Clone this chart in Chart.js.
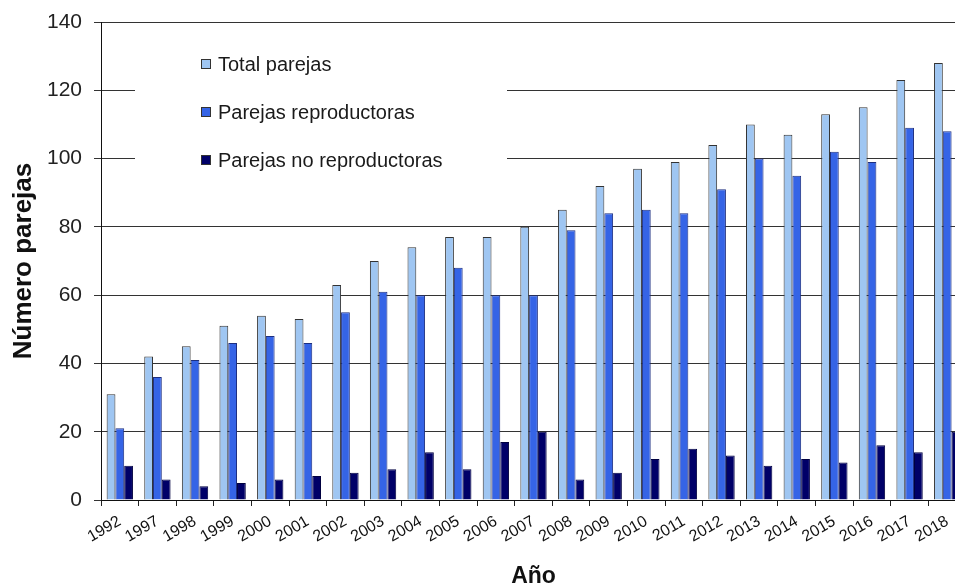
<!DOCTYPE html>
<html>
<head>
<meta charset="utf-8">
<script src="https://cdn.jsdelivr.net/npm/chart.js@4.4.0/dist/chart.umd.min.js"></script>
<style>
  html, body { margin: 0; padding: 0; background: #fff; }
  #wrap { width: 955px; height: 587px; overflow: hidden; position: relative; }
  canvas { display: block; }
</style>
</head>
<body>
<div id="wrap"><canvas id="chart" width="970" height="587"></canvas></div>
<script>
// years shown on the axis (note the gap 1992 -> 1997)
const years = ['1992', '1997', '1998', '1999', '2000', '2001', '2002', '2003', '2004', '2005', '2006', '2007',
  '2008', '2009', '2010', '2011', '2012', '2013', '2014', '2015', '2016', '2017', '2018'];

const totalParejas = [31, 42, 45, 51, 54, 53, 63, 70, 74, 77, 77, 80,
  85, 92, 97, 99, 104, 110, 107, 113, 115, 123, 128];
const reproductoras = [21, 36, 41, 46, 48, 46, 55, 61, 60, 68, 60, 60,
  79, 84, 85, 84, 91, 100, 95, 102, 99, 109, 108];
const noReproductoras = [10, 6, 4, 5, 6, 7, 8, 9, 14, 9, 17, 20,
  6, 8, 12, 15, 13, 10, 12, 11, 16, 14, 20];

const yTicks = [0, 20, 40, 60, 80, 100, 120, 140];

const font = 'Arial, "Liberation Sans", sans-serif';

// legend drawn inside the plot on a white box, like the original
const insideLegend = {
  id: 'insideLegend',
  afterDatasetsDraw(chart) {
    const ctx = chart.ctx;
    const area = chart.chartArea;
    const x0 = area.left + 34, y0 = area.top + 20;
    ctx.save();
    ctx.fillStyle = '#ffffff';
    ctx.fillRect(x0, y0, 372, 148);
    ctx.font = '20px ' + font;
    ctx.textBaseline = 'middle';
    chart.data.datasets.forEach((ds, i) => {
      const cy = y0 + 22 + i * 48;
      ctx.fillStyle = ds.backgroundColor;
      ctx.fillRect(x0 + 66, cy - 5, 10, 10);
      ctx.strokeStyle = '#333';
      ctx.lineWidth = 1;
      ctx.strokeRect(x0 + 66.5, cy - 4.5, 9, 9);
      ctx.fillStyle = '#1a1a1a';
      ctx.fillText(ds.label, x0 + 83, cy + 1);
    });
    ctx.restore();
  }
};

new Chart(document.getElementById('chart'), {
  type: 'bar',
  data: {
    labels: years,
    datasets: [
      { label: 'Total parejas', data: totalParejas, backgroundColor: '#9fc6f2', borderColor: '#333', borderWidth: 1 },
      { label: 'Parejas reproductoras', data: reproductoras, backgroundColor: '#3564e6', borderColor: '#1d2f80', borderWidth: 1 },
      { label: 'Parejas no reproductoras', data: noReproductoras, backgroundColor: '#000068', borderColor: '#000040', borderWidth: 1 }
    ]
  },
  options: {
    responsive: false,
    animation: false,
    layout: { padding: { top: 22, left: 8, right: 4, bottom: 0 } },
    datasets: { bar: { categoryPercentage: 0.7, barPercentage: 1.0 } },
    plugins: {
      legend: { display: false },
      tooltip: { enabled: false }
    },
    scales: {
      x: {
        offset: true,
        afterFit(scale) {
          scale.height = 87;
          scale.paddingLeft = 0;
          scale.paddingRight = 0;
        },
        grid: { display: true, drawOnChartArea: false, offset: true, color: '#222', tickLength: 6 },
        border: { color: '#111', width: 1 },
        ticks: {
          font: { family: font, size: 16 },
          color: '#111',
          minRotation: 30,
          maxRotation: 30,
          autoSkip: false,
          padding: 6
        },
        title: {
          display: true,
          text: 'Año',
          font: { family: font, size: 23, weight: 'bold' },
          color: '#111',
          padding: { top: 0, bottom: -3 }
        }
      },
      y: {
        min: 0,
        max: 140,
        afterBuildTicks(axis) { axis.ticks = yTicks.map(v => ({ value: v })); },
        afterFit(scale) {
          scale.width = 93;
          scale.paddingTop = 0;
          scale.paddingBottom = 0;
        },
        grid: { color: '#333', lineWidth: 1, tickLength: 7 },
        border: { color: '#111', width: 1 },
        ticks: {
          font: { family: font, size: 21 },
          color: '#222',
          padding: 12
        },
        title: {
          display: true,
          text: 'Número parejas',
          font: { family: font, size: 26, weight: 'bold' },
          color: '#111',
          padding: { top: 0, bottom: 0 }
        }
      }
    }
  },
  plugins: [insideLegend]
});
</script>
</body>
</html>
